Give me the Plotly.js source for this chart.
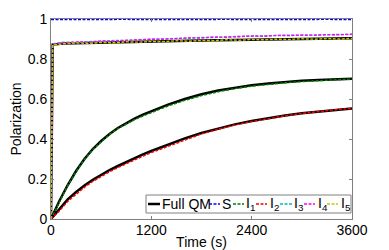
<!DOCTYPE html>
<html>
<head>
<meta charset="utf-8">
<script src="https://cdn.plot.ly/plotly-3.0.1.min.js"></script>
<style>html,body{margin:0;padding:0;background:#fff;}#plot{width:389px;height:250px;}</style>
</head>
<body>
<div id="plot"></div>
<script>
// ---- data ----
const tMain = [0,100,200,300,400,500,600,700,800,900,1000,1100,1200,1400,1600,1800,2000,2200,2400,2600,2800,3000,3200,3400,3600];
const fullQM_I1 = [0,0.09,0.17,0.24,0.30,0.35,0.39,0.425,0.455,0.48,0.502,0.522,0.54,0.572,0.60,0.624,0.642,0.657,0.669,0.678,0.685,0.691,0.695,0.698,0.701];
const I1 = [0,0.086,0.168,0.236,0.298,0.347,0.386,0.423,0.452,0.476,0.497,0.515,0.532,0.565,0.593,0.617,0.636,0.652,0.664,0.674,0.681,0.687,0.692,0.696,0.700];
const fullQM_I2 = [0,0.05,0.098,0.135,0.168,0.196,0.222,0.245,0.265,0.285,0.304,0.323,0.34,0.373,0.403,0.43,0.453,0.473,0.49,0.505,0.518,0.529,0.538,0.546,0.553];
const I2 = [0,0.04,0.088,0.125,0.158,0.188,0.213,0.236,0.257,0.277,0.296,0.314,0.332,0.364,0.396,0.425,0.449,0.47,0.487,0.503,0.516,0.528,0.538,0.546,0.553];

const tTop = [0,20,150,300,450,600,750,900,1050,1200,1350,1500,1650,1800,1950,2100,2250,2400,2550,2700,2850,3000,3150,3300,3450,3600];
const fullQM_top = [0,0.872,0.878,0.879,0.880,0.882,0.883,0.885,0.886,0.887,0.889,0.890,0.891,0.893,0.894,0.895,0.896,0.897,0.898,0.899,0.900,0.901,0.902,0.902,0.903,0.904];
const I3 = [0,0.876,0.884,0.882,0.887,0.888,0.893,0.892,0.897,0.898,0.901,0.903,0.904,0.908,0.907,0.911,0.913,0.913,0.917,0.916,0.919,0.918,0.921,0.921,0.923,0.923];
const I4 = [0,0.874,0.881,0.885,0.884,0.890,0.889,0.894,0.895,0.899,0.899,0.904,0.906,0.905,0.910,0.909,0.913,0.915,0.914,0.918,0.917,0.920,0.919,0.922,0.921,0.924];
const I5 = [0,0.870,0.876,0.880,0.878,0.883,0.881,0.886,0.884,0.888,0.887,0.891,0.889,0.893,0.892,0.896,0.894,0.897,0.896,0.899,0.898,0.901,0.899,0.902,0.900,0.903];
const tS = [0,300,600,900,1200,1500,1800,2100,2400,2700,3000,3300,3600];
const S = [0.997,0.998,0.997,0.998,0.997,0.998,0.997,0.998,0.997,0.998,0.997,0.998,0.997];

const xTicks = [0,1200,2400,3600];
const yTicks = [0,0.2,0.4,0.6,0.8,1];
const legendNames = ['Full QM','S','I<sub>1</sub>','I<sub>2</sub>','I<sub>3</sub>','I<sub>4</sub>','I<sub>5</sub>'];
const colors = ['#000000','#0000ff','#008000','#ff0000','#00c0c0','#ff00ff','#c8c800'];

const FONT = 'Liberation Sans, Arial, sans-serif';
const FS = 14;
const dashStyle = '3px,1.5px';
function solid(x,y){return {x:x,y:y,mode:'lines',line:{color:colors[0],width:2.5},showlegend:false,hoverinfo:'skip'};}
function dashed(x,y,c){return {x:x,y:y,mode:'lines',line:{color:c,width:1.4,dash:dashStyle},showlegend:false,hoverinfo:'skip'};}

const traces = [
  solid(tMain, fullQM_I1),
  solid(tMain, fullQM_I2),
  solid(tTop, fullQM_top),
  dashed(tMain, I1, colors[2]),
  dashed(tMain, I2, colors[3]),
  dashed(tTop, I3, colors[4]),
  dashed(tTop, I4, colors[5]),
  dashed(tTop, I5, colors[6]),
  dashed(tS, S, colors[1])
];

// ---- layout geometry (pixels) ----
const W=389,H=250,ML=51,MR=37,MT=19,MB=31;
const PW=W-ML-MR, PH=H-MT-MB;
const px = X => (X-ML)/PW;
const py = Y => (H-MB-Y)/PH;

// custom compact legend
const legBox = {x0:146,x1:351,y0:195,y1:213};
const legLineY = 204;
const legLines = [[148,160],[209,220],[233,244],[256,267],[280,292],[304,315],[327,338]];
const legText = [160.5,220.5,244.5,268.5,292.5,316.5,339.5];
const shapes = [{type:'rect',xref:'paper',yref:'paper',x0:px(legBox.x0),x1:px(legBox.x1),y0:py(legBox.y1),y1:py(legBox.y0),line:{color:'#808080',width:1},fillcolor:'#ffffff',layer:'above'}];
const annotations = [];
legendNames.forEach((n,i)=>{
  shapes.push({type:'line',xref:'paper',yref:'paper',x0:px(legLines[i][0]),x1:px(legLines[i][1]),y0:py(legLineY),y1:py(legLineY),layer:'above',
    line:{color:colors[i],width:i===0?2.5:1.4,dash:i===0?'solid':dashStyle}});
  annotations.push({xref:'paper',yref:'paper',x:px(legText[i]),y:py(legLineY),xanchor:'left',yanchor:'middle',text:n,showarrow:false,
    font:{family:FONT,size:FS,color:'#000'},borderpad:0});
});

const axisCommon = {showgrid:false,zeroline:false,showline:true,linecolor:'#808080',linewidth:1,mirror:'ticks',
  ticks:'inside',ticklen:3,tickcolor:'#808080',tickfont:{family:FONT,size:FS,color:'#000'}};

const layout = {
  width:W,height:H,margin:{l:ML,r:MR,t:MT,b:MB},
  font:{family:FONT,size:FS,color:'#000'},
  paper_bgcolor:'#fff',plot_bgcolor:'#fff',showlegend:false,
  xaxis:Object.assign({},axisCommon,{range:[0,3600],tickvals:xTicks,ticktext:xTicks.map(String),ticklabelstandoff:-2,
    title:{text:'Time (s)',font:{family:FONT,size:FS,color:'#000'},standoff:0}}),
  yaxis:Object.assign({},axisCommon,{range:[0,1],tickvals:yTicks,ticktext:yTicks.map(String),
    title:{text:'Polarization',font:{family:FONT,size:FS,color:'#000'},standoff:2}}),
  shapes:shapes,annotations:annotations
};
Plotly.newPlot('plot',traces,layout,{staticPlot:true,displayModeBar:false});
</script>
</body>
</html>
